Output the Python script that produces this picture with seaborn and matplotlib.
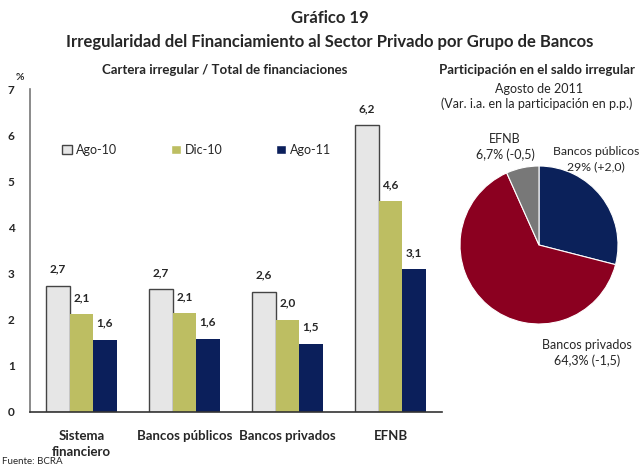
import pandas as pd
import matplotlib
matplotlib.use("Agg")
import matplotlib.pyplot as plt
import seaborn as sns

# datos
grupos = ["Sistema\nfinanciero", "Bancos públicos", "Bancos privados", "EFNB"]
periodos = ["Ago-10", "Dic-10", "Ago-11"]
ago10 = [2.74, 2.66, 2.61, 6.21]
dic10 = [2.12, 2.14, 2.00, 4.57]
ago11 = [1.57, 1.59, 1.48, 3.10]

pie_labels = ["Bancos públicos\n29% (+2,0)", "Bancos privados\n64,3% (-1,5)", "EFNB\n6,7% (-0,5)"]
pie_values = [29.0, 64.3, 6.7]

bar_colors = ["#E6E6E6", "#BDBE62", "#0B1F5B"]
pie_colors = ["#0B215A", "#8B0020", "#787878"]

rows = []
for per, vals in zip(periodos, [ago10, dic10, ago11]):
    for g, v in zip(grupos, vals):
        rows.append({"grupo": g, "periodo": per, "valor": v})
df = pd.DataFrame(rows)

sns.set_style("white")
plt.rcParams["font.family"] = ["Lato", "DejaVu Sans"]

W, H = 639, 468
fig = plt.figure(figsize=(W / 100, H / 100), dpi=100)

def fx(px):
    return px / W

def fy(py):
    return 1 - py / H

fig.text(fx(330), fy(18), "Gráfico 19", ha="center", va="center", fontsize=12, fontweight="bold")
fig.text(fx(330), fy(42), "Irregularidad del Financiamiento al Sector Privado por Grupo de Bancos",
         ha="center", va="center", fontsize=12, fontweight="bold")

# barras
ax = fig.add_axes([fx(30), fy(412), fx(442) - fx(30), fy(89) - fy(412)])
sns.barplot(data=df, x="grupo", y="valor", hue="periodo", palette=bar_colors,
            width=0.68, saturation=1, ax=ax, legend=True)

for cont, per in zip(ax.containers, periodos):
    for p in cont:
        if per == "Ago-10":
            p.set_edgecolor("#444444")
            p.set_linewidth(1.0)
        else:
            p.set_edgecolor("none")
    ax.bar_label(cont, labels=[f"{b.get_height():.1f}".replace(".", ",") for b in cont],
                 padding=8, fontsize=8.5, fontweight="bold")

ax.set_ylim(0, 7)
ax.set_xlim(-0.5, 3.5)
ax.set_yticks(range(0, 8))
ax.set_xlabel("")
ax.set_ylabel("")
ax.tick_params(axis="y", direction="in", length=3, labelsize=8.5, pad=11, color="#666666")
for lab in ax.get_yticklabels():
    lab.set_fontweight("bold")
ax.set_xticks(range(4))
ax.set_xticklabels(grupos, fontsize=9.5, fontweight="bold", linespacing=1.4, va="top")
ax.tick_params(axis="x", length=0, pad=13)
ax.set_xticks([0.5, 1.5, 2.5], minor=True)
ax.tick_params(axis="x", which="minor", direction="in", length=6, color="#333333")
for s in ["top", "right"]:
    ax.spines[s].set_visible(False)
ax.spines["left"].set_color("#777777")
ax.spines["bottom"].set_color("#333333")
ax.spines["left"].set_linewidth(1.2)
ax.spines["bottom"].set_linewidth(1.2)

leg = ax.legend(loc="center left", bbox_to_anchor=(0.078, (412 - 150) / 323), ncol=3, frameon=False,
                fontsize=9, handlelength=0.8, handleheight=0.8, handletextpad=0.3,
                columnspacing=4.3, borderaxespad=0, borderpad=0)
for h, per in zip(leg.legend_handles, periodos):
    if per == "Ago-10":
        h.set_edgecolor("#444444")
        h.set_linewidth(1.0)

fig.text(fx(20), fy(78), "%", ha="center", va="center", fontsize=7.5, fontweight="bold")
fig.text(fx(225), fy(70), "Cartera irregular / Total de financiaciones",
         ha="center", va="center", fontsize=9.5, fontweight="bold")
fig.text(fx(2), fy(462), "Fuente: BCRA", ha="left", va="center", fontsize=7)

# torta
fig.text(fx(537), fy(70), "Participación en el saldo irregular",
         ha="center", va="center", fontsize=9.5, fontweight="bold")
fig.text(fx(539), fy(89), "Agosto de 2011", ha="center", va="center", fontsize=9)
fig.text(fx(537), fy(104), "(Var. i.a. en la participación en p.p.)", ha="center", va="center", fontsize=9)

r = 79
axp = fig.add_axes([fx(539 - r), fy(245 + r), fx(2 * r), fy(245 - r) - fy(245 + r)])
axp.pie(pie_values, colors=pie_colors, startangle=90, counterclock=False, radius=1,
        wedgeprops={"edgecolor": "white", "linewidth": 0.8})
axp.set_xlim(-1, 1)
axp.set_ylim(-1, 1)

fig.text(fx(596), fy(159), pie_labels[0], ha="center", va="center", fontsize=8.8, linespacing=1.4)
fig.text(fx(587), fy(353), pie_labels[1], ha="center", va="center", fontsize=9, linespacing=1.4)
fig.text(fx(505), fy(147), pie_labels[2], ha="center", va="center", fontsize=9, linespacing=1.4)

fig.savefig("out.png", dpi=100)
